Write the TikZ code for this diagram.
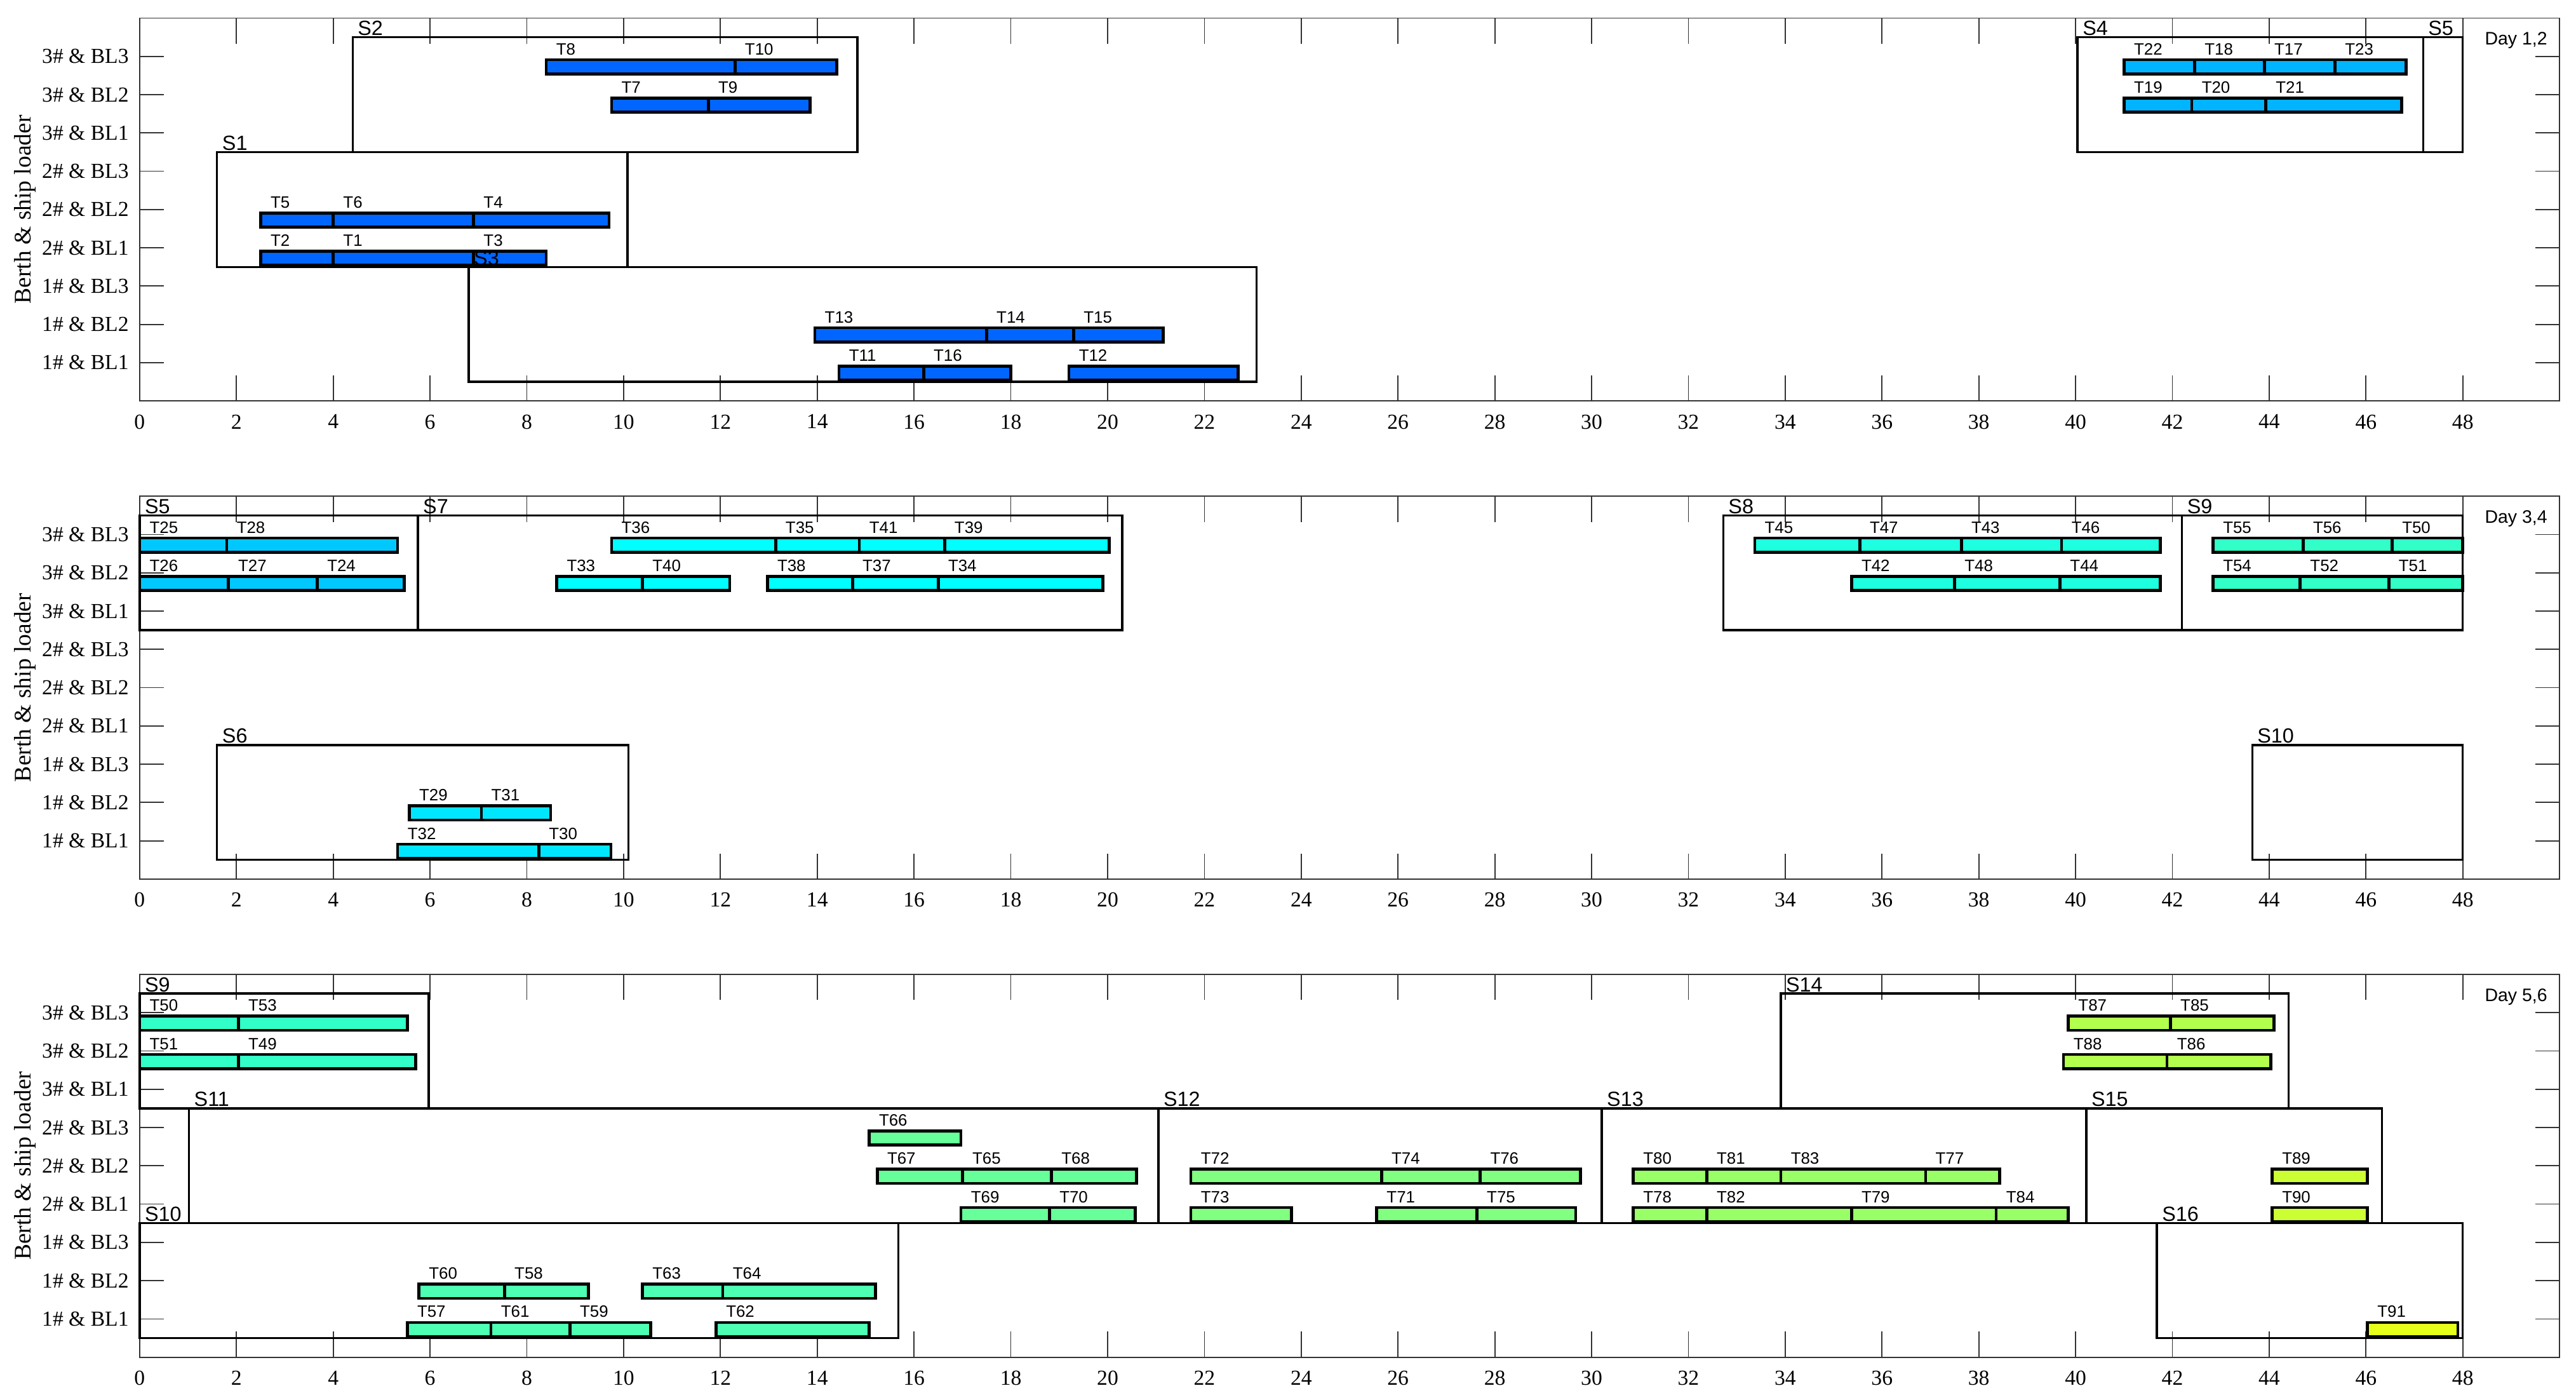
\documentclass[tikz,border=0pt]{standalone}
\usepackage{fontspec}
\setmainfont{Liberation Serif}
\newfontfamily\sansf{Liberation Sans}
\definecolor{cA}{RGB}{0,102,255}
\definecolor{cD}{RGB}{0,180,255}
\definecolor{cE}{RGB}{0,200,255}
\definecolor{cF}{RGB}{0,230,255}
\definecolor{cG}{RGB}{0,255,255}
\definecolor{cH}{RGB}{30,255,224}
\definecolor{cI}{RGB}{50,255,200}
\definecolor{cJ}{RGB}{77,255,179}
\definecolor{cK}{RGB}{102,255,153}
\definecolor{cL}{RGB}{128,255,128}
\definecolor{cM}{RGB}{153,255,102}
\definecolor{cN}{RGB}{179,255,77}
\definecolor{cO}{RGB}{204,255,51}
\definecolor{cP}{RGB}{230,255,26}
\tikzset{
 bar/.style={draw=black,line width=1.8pt},
 sbox/.style={draw=black,line width=1.3pt},
 axisl/.style={draw=black!80,line width=0.7pt},
 tl/.style={font=\sansf\fontsize{10}{10}\selectfont,anchor=base west,inner sep=0pt},
 sl/.style={font=\sansf\fontsize{12.5}{12.5}\selectfont,anchor=base west,inner sep=0pt},
 dl/.style={font=\sansf\fontsize{11}{11}\selectfont,anchor=base east,inner sep=0pt},
 rl/.style={font=\fontsize{13}{13}\selectfont,anchor=east,inner sep=0pt},
 xl/.style={font=\fontsize{13}{13}\selectfont,anchor=north,inner sep=0pt},
 yl/.style={font=\fontsize{14.5}{14.5}\selectfont,rotate=90,inner sep=0pt}
}
\newcommand\PN{p}
\newcommand\tk[5]{\draw[bar,fill=#5] (#1,#3-0.46) rectangle (#2,#3-0.09);
 \node[tl] (\PN-#4) at (#1+0.2,#3+0.04) {#4};}
\newcommand\stgbox[5]{\draw[sbox] (#1,#3) rectangle (#2,#4);}
\newcommand\sn[4]{\node[sl] (\PN-#4) at (#1+0.1,#2+0.05) {#4};}
\newcommand\axes[1]{%
 \draw[axisl] (0,0) rectangle (50,10);
 \foreach \i in {0,2,...,48}{
  \draw[axisl] (\i,0) -- (\i,0.67);
  \draw[axisl] (\i,10) -- (\i,9.33);
  \node[xl] (\PN-x\i) at (\i,-0.35) {\i};}
 \foreach \r in {1,...,9}{
  \pgfmathtruncatemacro\bb{int((\r-1)/3)+1}
  \pgfmathtruncatemacro\ll{mod(\r-1,3)+1}
  \draw[axisl] (0,\r) -- (0.5,\r);
  \draw[axisl] (50,\r) -- (49.5,\r);
  \node[rl] (\PN-r\r) at (-0.22,\r) {\bb\# \& BL\ll};}
 \node[yl] (\PN-yl) at (-2.37,5) {Berth \& ship loader};
 \node[dl] (\PN-day) at (49.75,9.3) {#1};}
\begin{document}
\begin{tikzpicture}[x=1pt,y=1pt]
\useasboundingbox (0,0) rectangle (1568,-852);
% ---------------- panel 1
\begin{scope}[shift={(85,-244)},x=29.46pt,y=23.3pt]
\renewcommand\PN{a}
\axes{Day 1,2}
\stgbox{1.6}{10.08}{3.5}{6.5}{}
\stgbox{4.4}{14.83}{6.5}{9.5}{}
\stgbox{6.8}{23.08}{0.5}{3.5}{}
\stgbox{40.04}{47.18}{6.5}{9.5}{}
\stgbox{47.18}{48}{6.5}{9.5}{}
\tk{2.5}{4.0}{5}{T5}{cA}\tk{4.0}{6.9}{5}{T6}{cA}\tk{6.9}{9.7}{5}{T4}{cA}
\tk{2.5}{4.0}{4}{T2}{cA}\tk{4.0}{6.9}{4}{T1}{cA}\tk{6.9}{8.4}{4}{T3}{cA}
\tk{8.4}{12.3}{9}{T8}{cA}\tk{12.3}{14.4}{9}{T10}{cA}
\tk{9.75}{11.75}{8}{T7}{cA}\tk{11.75}{13.85}{8}{T9}{cA}
\tk{13.95}{17.5}{2}{T13}{cA}\tk{17.5}{19.3}{2}{T14}{cA}\tk{19.3}{21.15}{2}{T15}{cA}
\tk{14.45}{16.2}{1}{T11}{cA}\tk{16.2}{18.0}{1}{T16}{cA}\tk{19.2}{22.7}{1}{T12}{cA}
\tk{41.0}{42.46}{9}{T22}{cD}\tk{42.46}{43.9}{9}{T18}{cD}\tk{43.9}{45.36}{9}{T17}{cD}\tk{45.36}{46.83}{9}{T23}{cD}
\tk{41.0}{42.4}{8}{T19}{cD}\tk{42.4}{43.93}{8}{T20}{cD}\tk{43.93}{46.74}{8}{T21}{cD}
\sn{1.6}{6.5}{}{S1}\sn{4.4}{9.5}{}{S2}\sn{6.8}{3.5}{}{S3}\sn{40.04}{9.5}{}{S4}\sn{47.18}{9.5}{}{S5}
\end{scope}
% ---------------- panel 2
\begin{scope}[shift={(85,-535)},x=29.46pt,y=23.3pt]
\renewcommand\PN{b}
\axes{Day 3,4}
\stgbox{0}{5.75}{6.5}{9.5}{}
\stgbox{5.75}{20.3}{6.5}{9.5}{}
\stgbox{32.72}{42.2}{6.5}{9.5}{}
\stgbox{42.2}{48}{6.5}{9.5}{}
\stgbox{1.6}{10.1}{0.5}{3.5}{}
\stgbox{43.65}{48}{0.5}{3.5}{}
\tk{0}{1.8}{9}{T25}{cE}\tk{1.8}{5.33}{9}{T28}{cE}
\tk{0}{1.83}{8}{T26}{cE}\tk{1.83}{3.67}{8}{T27}{cE}\tk{3.67}{5.47}{8}{T24}{cE}
\tk{9.75}{13.14}{9}{T36}{cG}\tk{13.14}{14.87}{9}{T35}{cG}\tk{14.87}{16.63}{9}{T41}{cG}\tk{16.63}{20.03}{9}{T39}{cG}
\tk{8.62}{10.39}{8}{T33}{cG}\tk{10.39}{12.19}{8}{T40}{cG}
\tk{12.97}{14.73}{8}{T38}{cG}\tk{14.73}{16.5}{8}{T37}{cG}\tk{16.5}{19.9}{8}{T34}{cG}
\tk{33.37}{35.54}{9}{T45}{cH}\tk{35.54}{37.64}{9}{T47}{cH}\tk{37.64}{39.71}{9}{T43}{cH}\tk{39.71}{41.75}{9}{T46}{cH}
\tk{35.37}{37.5}{8}{T42}{cH}\tk{37.5}{39.68}{8}{T48}{cH}\tk{39.68}{41.75}{8}{T44}{cH}
\tk{42.84}{44.7}{9}{T55}{cI}\tk{44.7}{46.54}{9}{T56}{cI}\tk{46.54}{48}{9}{T50}{cI}
\tk{42.84}{44.64}{8}{T54}{cI}\tk{44.64}{46.47}{8}{T52}{cI}\tk{46.47}{48}{8}{T51}{cI}
\tk{5.57}{7.06}{2}{T29}{cF}\tk{7.06}{8.49}{2}{T31}{cF}
\tk{5.33}{8.25}{1}{T32}{cF}\tk{8.25}{9.74}{1}{T30}{cF}
\sn{0}{9.5}{}{S5}\sn{5.75}{9.5}{}{S7}\sn{32.72}{9.5}{}{S8}\sn{42.2}{9.5}{}{S9}\sn{1.6}{3.5}{}{S6}\sn{43.65}{3.5}{}{S10}
\end{scope}
% ---------------- panel 3
\begin{scope}[shift={(85,-826)},x=29.46pt,y=23.3pt]
\renewcommand\PN{c}
\axes{Day 5,6}
\stgbox{0}{5.97}{6.5}{9.5}{}
\stgbox{1.02}{21.05}{3.5}{6.5}{}
\stgbox{21.05}{30.21}{3.5}{6.5}{}
\stgbox{30.21}{40.22}{3.5}{6.5}{}
\stgbox{33.91}{44.4}{6.5}{9.5}{}
\stgbox{40.22}{46.33}{3.5}{6.5}{}
\stgbox{41.68}{48}{0.5}{3.5}{}
\stgbox{0}{15.68}{0.5}{3.5}{}
\tk{0}{2.04}{9}{T50}{cI}\tk{2.04}{5.53}{9}{T53}{cI}
\tk{0}{2.04}{8}{T51}{cI}\tk{2.04}{5.7}{8}{T49}{cI}
\tk{15.07}{16.97}{6}{T66}{cK}
\tk{15.24}{17.0}{5}{T67}{cK}\tk{17.0}{18.84}{5}{T65}{cK}\tk{18.84}{20.6}{5}{T68}{cK}
\tk{16.97}{18.8}{4}{T69}{cK}\tk{18.8}{20.57}{4}{T70}{cK}
\tk{21.72}{25.66}{5}{T72}{cL}\tk{25.66}{27.7}{5}{T74}{cL}\tk{27.7}{29.77}{5}{T76}{cL}
\tk{21.72}{23.8}{4}{T73}{cL}\tk{25.56}{27.63}{4}{T71}{cL}\tk{27.63}{29.67}{4}{T75}{cL}
\tk{30.86}{32.38}{5}{T80}{cM}\tk{32.38}{33.91}{5}{T81}{cM}\tk{33.91}{36.9}{5}{T83}{cM}\tk{36.9}{38.43}{5}{T77}{cM}
\tk{30.86}{32.38}{4}{T78}{cM}\tk{32.38}{35.37}{4}{T82}{cM}\tk{35.37}{38.36}{4}{T79}{cM}\tk{38.36}{39.85}{4}{T84}{cM}
\tk{39.85}{41.96}{9}{T87}{cN}\tk{41.96}{44.1}{9}{T85}{cN}
\tk{39.75}{41.89}{8}{T88}{cN}\tk{41.89}{44.03}{8}{T86}{cN}
\tk{44.06}{46.03}{5}{T89}{cO}\tk{44.06}{46.03}{4}{T90}{cO}
\tk{46.03}{47.9}{1}{T91}{cP}
\tk{5.77}{7.54}{2}{T60}{cJ}\tk{7.54}{9.27}{2}{T58}{cJ}\tk{10.39}{12.05}{2}{T63}{cJ}\tk{12.05}{15.2}{2}{T64}{cJ}
\tk{5.53}{7.26}{1}{T57}{cJ}\tk{7.26}{8.89}{1}{T61}{cJ}\tk{8.89}{10.56}{1}{T59}{cJ}\tk{11.91}{15.07}{1}{T62}{cJ}
\sn{0}{9.5}{}{S9}\sn{1.02}{6.5}{}{S11}\sn{21.05}{6.5}{}{S12}\sn{30.21}{6.5}{}{S13}\sn{33.91}{9.5}{}{S14}
\sn{40.22}{6.5}{}{S15}\sn{41.68}{3.5}{}{S16}\sn{0}{3.5}{}{S10}
\end{scope}
\end{tikzpicture}
\end{document}
